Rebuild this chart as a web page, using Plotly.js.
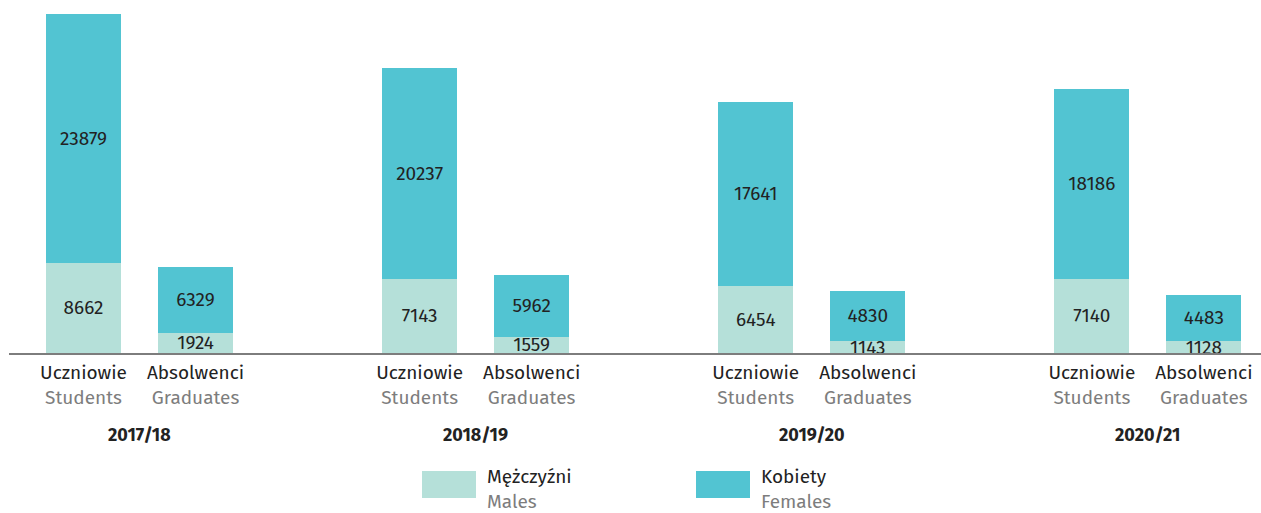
<!DOCTYPE html>
<html>
<head>
<meta charset="utf-8">
<script src="https://cdn.plot.ly/plotly-3.0.1.min.js"></script>
<style>
  html, body { margin: 0; padding: 0; background: #fff; }
  #chart { width: 1261px; height: 513px; }
</style>
</head>
<body>
<div id="chart"></div>
<script>
// dane
var years = ['2017/18', '2018/19', '2019/20', '2020/21'];
var catsPl = ['Uczniowie', 'Absolwenci'];
var catsEn = ['Students', 'Graduates'];
var males = [8662, 1924, 7143, 1559, 6454, 1143, 7140, 1128];
var females = [23879, 6329, 20237, 5962, 17641, 4830, 18186, 4483];
var legendPl = ['Mężczyźni', 'Kobiety'];
var legendEn = ['Males', 'Females'];

var colMale = '#b5e0d9';
var colFemale = '#52c4d2';
var grey = '#7d7d7d';
var dark = '#222';
var font = 'Fira Sans, Noto Sans, Open Sans, sans-serif';

// pozycje slupkow: dwa w grupie, jedno wolne miejsce miedzy grupami
var xs = [], tickText = [];
years.forEach(function (y, g) {
  catsPl.forEach(function (c, k) {
    xs.push(g * 3 + k);
    tickText.push(c + "<br><span style='color:" + grey + "'>" + catsEn[k] + '</span>');
  });
});

var common = {
  type: 'bar',
  x: xs,
  width: 0.67,
  textposition: 'inside',
  insidetextanchor: 'middle',
  textfont: { family: font, size: 19, color: dark },
  hoverinfo: 'y',
};

var trace1 = Object.assign({}, common, {
  y: males,
  text: males.map(String),
  name: legendPl[0],
  marker: { color: colMale },
});
var trace2 = Object.assign({}, common, {
  y: females,
  text: females.map(String),
  name: legendPl[1],
  marker: { color: colFemale },
});

// przeliczanie pikseli na wsp. paper (dla legendy)
var L = 9, T = 14, W = 1252, H = 339;
function px(x) { return (x - L) / W; }
function py(y) { return (T + H - y) / H; }

var annotations = years.map(function (y, g) {
  return {
    text: '<b>' + y + '</b>',
    x: g * 3 + 0.5, xref: 'x',
    y: py(435), yref: 'paper', yanchor: 'middle',
    showarrow: false,
    font: { family: font, size: 18, color: dark },
  };
});

var swatchX = [422, 696];
var shapes = [];
[colMale, colFemale].forEach(function (c, i) {
  shapes.push({
    type: 'rect', xref: 'paper', yref: 'paper',
    x0: px(swatchX[i]), x1: px(swatchX[i] + 54),
    y0: py(498), y1: py(471),
    fillcolor: c, line: { width: 0 },
  });
  annotations.push({
    text: legendPl[i] + "<br><span style='color:" + grey + "'>" + legendEn[i] + '</span>',
    x: px(swatchX[i] + 64), xref: 'paper', xanchor: 'left',
    y: py(489), yref: 'paper', yanchor: 'middle',
    align: 'left', showarrow: false, borderpad: 0,
    font: { family: font, size: 19, color: dark },
  });
});

var layout = {
  width: 1261,
  height: 513,
  margin: { l: L, r: 0, t: T, b: 513 - T - H },
  barmode: 'stack',
  showlegend: false,
  paper_bgcolor: '#fff',
  plot_bgcolor: '#fff',
  font: { family: font, color: dark },
  uniformtext: { mode: 'show', minsize: 19 },
  xaxis: {
    range: [-0.665, 10.51],
    tickmode: 'array',
    tickvals: xs,
    ticktext: tickText,
    tickfont: { family: font, size: 19, color: dark },
    ticklabelstandoff: 2,
    showgrid: false,
    zeroline: false,
    showline: true,
    linecolor: grey,
    linewidth: 1.5,
    ticks: '',
    fixedrange: true,
  },
  yaxis: {
    range: [0, 32541],
    visible: false,
    showgrid: false,
    zeroline: false,
    fixedrange: true,
  },
  annotations: annotations,
  shapes: shapes,
};

Plotly.newPlot('chart', [trace1, trace2], layout, { displayModeBar: false, staticPlot: true });
</script>
</body>
</html>
